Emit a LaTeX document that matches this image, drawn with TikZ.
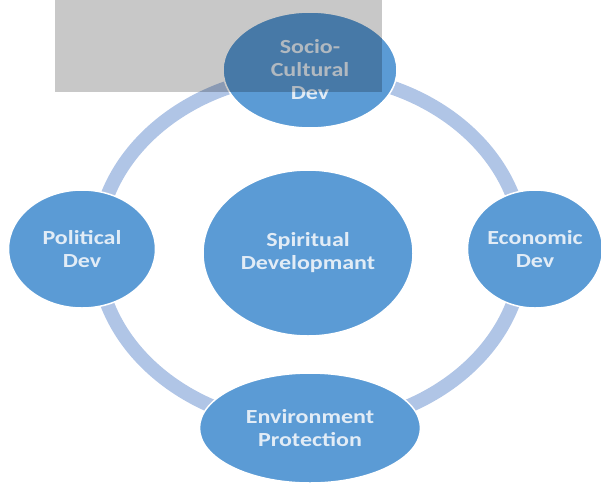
\documentclass[tikz,border=0pt]{standalone}
\usepackage{fontspec}
\setmainfont{Carlito}[FakeStretch=1.2]
\usetikzlibrary{shapes.geometric}
\definecolor{ringblue}{RGB}{176,197,230}
\definecolor{nodeblue}{RGB}{91,155,213}
\definecolor{textlight}{RGB}{226,236,246}
\tikzset{
  ringline/.style={draw=ringblue, line width=14pt},
  bubble/.style={ellipse, fill=nodeblue, draw=white, line width=1.5pt,
    inner sep=0pt, align=center, text=textlight,
    font=\bfseries\fontsize{20}{23}\selectfont},
  overlay box/.style={fill=black, fill opacity=0.215, draw=none}
}
\begin{document}
\begin{tikzpicture}[x=1pt,y=-1pt]
\useasboundingbox (0,0) rectangle (601,482);
\draw[ringline] (310,250) ellipse [x radius=213pt, y radius=176pt];
\node[bubble, minimum width=174pt, minimum height=116pt] (soc) at (310,70) {Socio-\\Cultural\\Dev};
\node[bubble, minimum width=147pt, minimum height=118pt] (pol) at (82,249) {Political\\Dev};
\node[bubble, minimum width=120pt, minimum height=118pt] (eco) at (535,249) {Economic\\Dev};
\node[bubble, minimum width=210pt, minimum height=166pt] (spi) at (308,253) {Spiritual\\Developmant};
\node[bubble, minimum width=221pt, minimum height=110pt] (env) at (310,428) {Environment\\Protection};
\fill[overlay box] (55,0) rectangle (382,92);
\end{tikzpicture}
\end{document}
